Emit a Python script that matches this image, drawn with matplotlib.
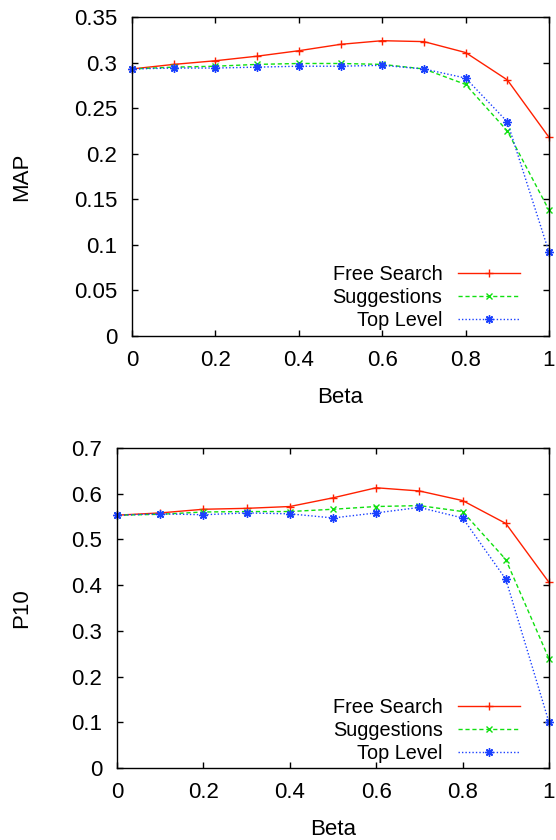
import numpy as np
import matplotlib
matplotlib.use("Agg")
import matplotlib.pyplot as plt

plt.rcParams['font.family'] = ['Liberation Sans', 'DejaVu Sans']

## dati
beta = [0.0, 0.1, 0.2, 0.3, 0.4, 0.5, 0.6, 0.7, 0.8, 0.9, 1.0]

map_free = [0.293, 0.298, 0.302, 0.307, 0.313, 0.320, 0.324, 0.323, 0.311, 0.281, 0.218]
map_sugg = [0.293, 0.295, 0.296, 0.298, 0.299, 0.299, 0.298, 0.293, 0.276, 0.225, 0.138]
map_top = [0.293, 0.294, 0.294, 0.295, 0.296, 0.296, 0.297, 0.293, 0.283, 0.235, 0.092]

p10_free = [0.553, 0.558, 0.566, 0.568, 0.572, 0.591, 0.613, 0.606, 0.585, 0.535, 0.406]
p10_sugg = [0.553, 0.555, 0.560, 0.561, 0.561, 0.566, 0.572, 0.574, 0.561, 0.456, 0.239]
p10_top = [0.553, 0.556, 0.554, 0.558, 0.556, 0.547, 0.558, 0.570, 0.547, 0.413, 0.100]

series_names = ["Free Search", "Suggestions", "Top Level"]

W, H = 556, 840
fig = plt.figure(figsize=(W / 100, H / 100), dpi=100)

def px_axes(left, right, top, bottom):
    return fig.add_axes([left / W, 1 - bottom / H, (right - left) / W, (bottom - top) / H])

ax1 = px_axes(132, 549, 17, 336)
ax2 = px_axes(117, 549, 448, 768)

styles = [
    dict(color='#ff2000', linestyle='-', marker='+', markersize=6, linewidth=1.0),
    dict(color='#10e010', linestyle=(0, (3, 2)), marker='x', markersize=5, linewidth=1.0),
    dict(color='#1a40ff', linestyle=(0, (1, 1.5)), marker=(8, 2, 0), markersize=6, linewidth=1.0),
]

def draw(ax, ys, ylim, yticks, ylabel, left, width, height, leg_x, leg_y):
    for y, name, st in zip(ys, series_names, styles):
        ax.plot(beta, y, label=name, clip_on=False, **st)
    ax.set_xlim(0, 1)
    ax.set_ylim(*ylim)
    ax.set_xticks([0, 0.2, 0.4, 0.6, 0.8, 1])
    ax.set_xticklabels(["0", "0.2", "0.4", "0.6", "0.8", "1"])
    ax.set_yticks(yticks)
    ax.set_yticklabels(["0" if v == 0 else ("%g" % v) for v in yticks])
    ax.tick_params(direction='in', top=True, right=True, length=4, width=1,
                   labelsize=16)
    ax.tick_params(axis='y', pad=10.5)
    ax.tick_params(axis='x', pad=10)
    for s in ax.spines.values():
        s.set_linewidth(1.0)
    ax.set_xlabel("Beta", fontsize=16)
    ax.set_ylabel(ylabel, fontsize=16)
    ax.yaxis.set_label_coords((32 - left) / width, 0.5)
    ax.xaxis.set_label_coords(0.5, -51 / height)
    ax.legend(loc='lower right', frameon=False, markerfirst=False, fontsize=14.3,
              handlelength=3.1, handletextpad=0.8, labelspacing=0.2,
              borderaxespad=0, borderpad=0, bbox_to_anchor=(leg_x, leg_y))

draw(ax1, [map_free, map_sugg, map_top], (0, 0.35),
     [0, 0.05, 0.1, 0.15, 0.2, 0.25, 0.3, 0.35], "MAP", 132, 417, 319, 0.930, 0.019)
draw(ax2, [p10_free, p10_sugg, p10_top], (0, 0.7),
     [0, 0.1, 0.2, 0.3, 0.4, 0.5, 0.6, 0.7], "P10", 117, 432, 320, 0.933, 0.016)

plt.savefig("out.png", dpi=100)
